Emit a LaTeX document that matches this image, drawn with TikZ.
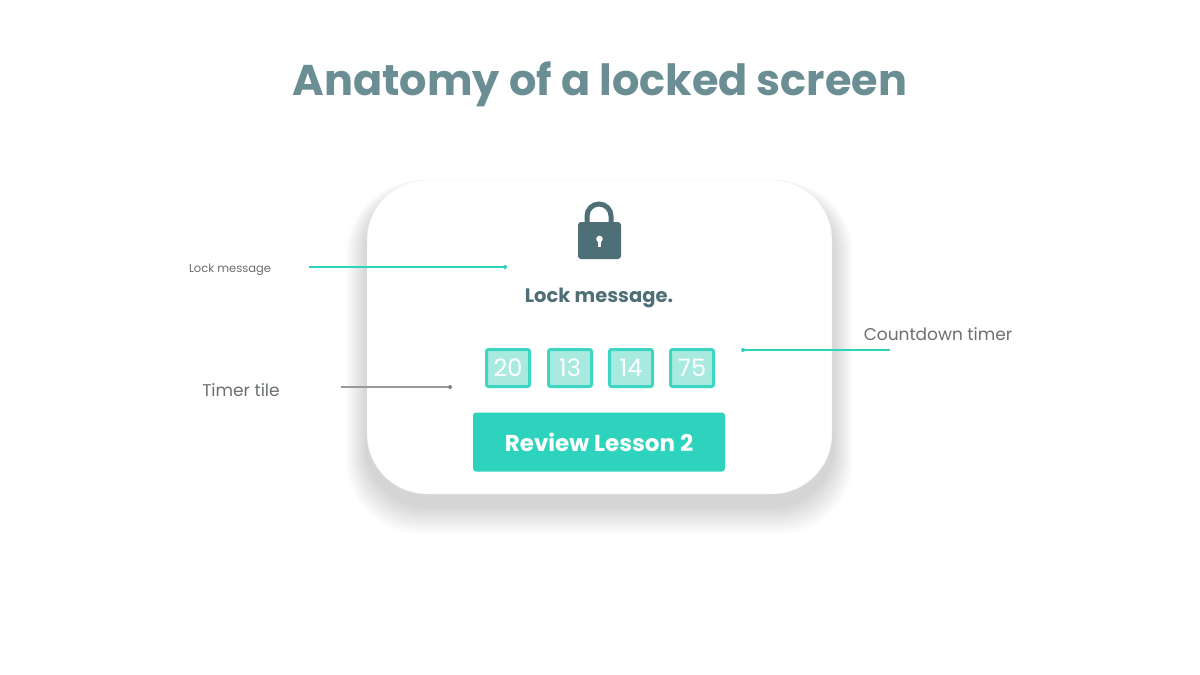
\documentclass[tikz,border=0pt]{standalone}
\usepackage{fontspec}
\setmainfont{Poppins}
\definecolor{teal}{HTML}{2ED3BD}
\definecolor{tileb}{HTML}{3DD6C0}
\definecolor{tilef}{HTML}{A8EAE0}
\definecolor{dark}{HTML}{4F6F77}
\definecolor{titlec}{HTML}{6A8E93}
\definecolor{greyt}{HTML}{6B6F72}
\begin{document}
\begin{tikzpicture}[x=1pt,y=-1pt,
  tile/.style={draw=tileb,line width=3pt,fill=tilef,rounded corners=2pt,minimum width=43pt,minimum height=37pt,text=white,font=\fontsize{24}{24}\selectfont,inner sep=0pt},
  lab/.style={text=greyt,inner sep=0pt},
  lead/.style={line width=1.4pt,draw=teal},
  dot/.style={circle,fill=teal,inner sep=0pt,minimum size=4pt}]
\useasboundingbox (0,0) rectangle (1200,675);
\fill[white] (0,0) rectangle (1200,675);
\node[text=titlec,font=\fontsize{43}{43}\selectfont\bfseries] (title) at (600,84) {Anatomy of a locked screen};
% soft shadow
\foreach \i in {1,...,14}{
  \fill[black,opacity=0.011,rounded corners=60pt+\i pt]
    (367-\i*1.5,192-\i*0.8) rectangle (832+\i*1.5,506+\i*2);
}
% card
\node[draw=black!8,fill=white,rounded corners=60pt,minimum width=465pt,minimum height=314pt] (card) at (599.5,337) {};
% lock
\draw[dark,line width=5pt] (587,226) -- (587,216) arc[start angle=180,end angle=360,radius=12] -- (611,226);
\fill[dark,rounded corners=3pt] (578,222) rectangle (621,259);
\fill[white] (599.5,239) circle (3.3);
\fill[white] (598,239) rectangle (601,247);
\node[text=dark,font=\fontsize{19.5}{19.5}\selectfont\bfseries] (msg) at (599,298) {Lock message.};
\node[tile] (t1) at (508,368) {20};
\node[tile] (t2) at (570,368) {13};
\node[tile] (t3) at (631,368) {14};
\node[tile] (t4) at (692,368) {75};
\node[fill=teal,rounded corners=3pt,minimum width=252pt,minimum height=59pt,text=white,font=\fontsize{23}{23}\selectfont\bfseries] (btn) at (599,442) {Review Lesson 2};
% annotations
\node[lab,font=\fontsize{11.5}{11.5}\selectfont] (l1) at (230,270) {Lock message};
\coordinate (l1a) at (309,267); \node[dot] (d1) at (505,267) {};
\draw[lead] (l1a) -- (d1);
\node[lab,font=\fontsize{17}{17}\selectfont] (l2) at (938,334) {Countdown timer};
\coordinate (l2a) at (890,350); \node[dot] (d2) at (743,350) {};
\draw[lead] (d2) -- (l2a);
\node[lab,font=\fontsize{17}{17}\selectfont] (l3) at (241,390) {Timer tile};
\coordinate (l3a) at (341,387); \node[dot,fill=gray] (d3) at (450,387) {};
\draw[lead,draw=gray!80] (l3a) -- (d3);
\end{tikzpicture}
\end{document}
